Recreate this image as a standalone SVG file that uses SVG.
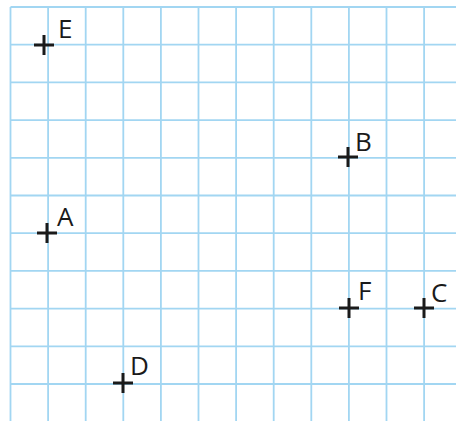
<svg xmlns="http://www.w3.org/2000/svg" width="456" height="421" viewBox="0 0 456 421">
<style>
.g{stroke:#a2d6f2;stroke-width:1.8;fill:none}
.x{stroke:#1a1a1a;stroke-width:3;fill:none}
.t{font-family:"Open Sans","Liberation Sans",sans-serif;font-size:26px;fill:#1a1a1a}
</style>
<defs>
<path id="cross" d="M-10 0H10M0 -10V10"/>
</defs>
<rect width="456" height="421" fill="#fff"/>
<g id="grid" class="g">
<path d="M10.5 7V421M48.1 7V421M85.7 7V421M123.3 7V421M160.9 7V421M198.5 7V421M236.1 7V421M273.7 7V421M311.3 7V421M348.9 7V421M386.5 7V421M424.1 7V421"/>
<path d="M10.5 7H456M10.5 44.7H456M10.5 82.4H456M10.5 120.1H456M10.5 157.8H456M10.5 195.5H456M10.5 233.2H456M10.5 270.9H456M10.5 308.6H456M10.5 346.3H456M10.5 384H456"/>
</g>
<g id="connectors"></g>
<g id="E"><use href="#cross" class="x" x="44" y="45"/><text class="t" x="58" y="38">E</text></g>
<g id="B"><use href="#cross" class="x" x="348" y="157"/><text class="t" x="355" y="151">B</text></g>
<g id="A"><use href="#cross" class="x" x="47" y="233"/><text class="t" x="57" y="226">A</text></g>
<g id="F"><use href="#cross" class="x" x="349" y="308"/><text class="t" x="358" y="300">F</text></g>
<g id="C"><use href="#cross" class="x" x="424" y="308"/><text class="t" x="431" y="302">C</text></g>
<g id="D"><use href="#cross" class="x" x="123" y="383"/><text class="t" x="130" y="375">D</text></g>
</svg>
